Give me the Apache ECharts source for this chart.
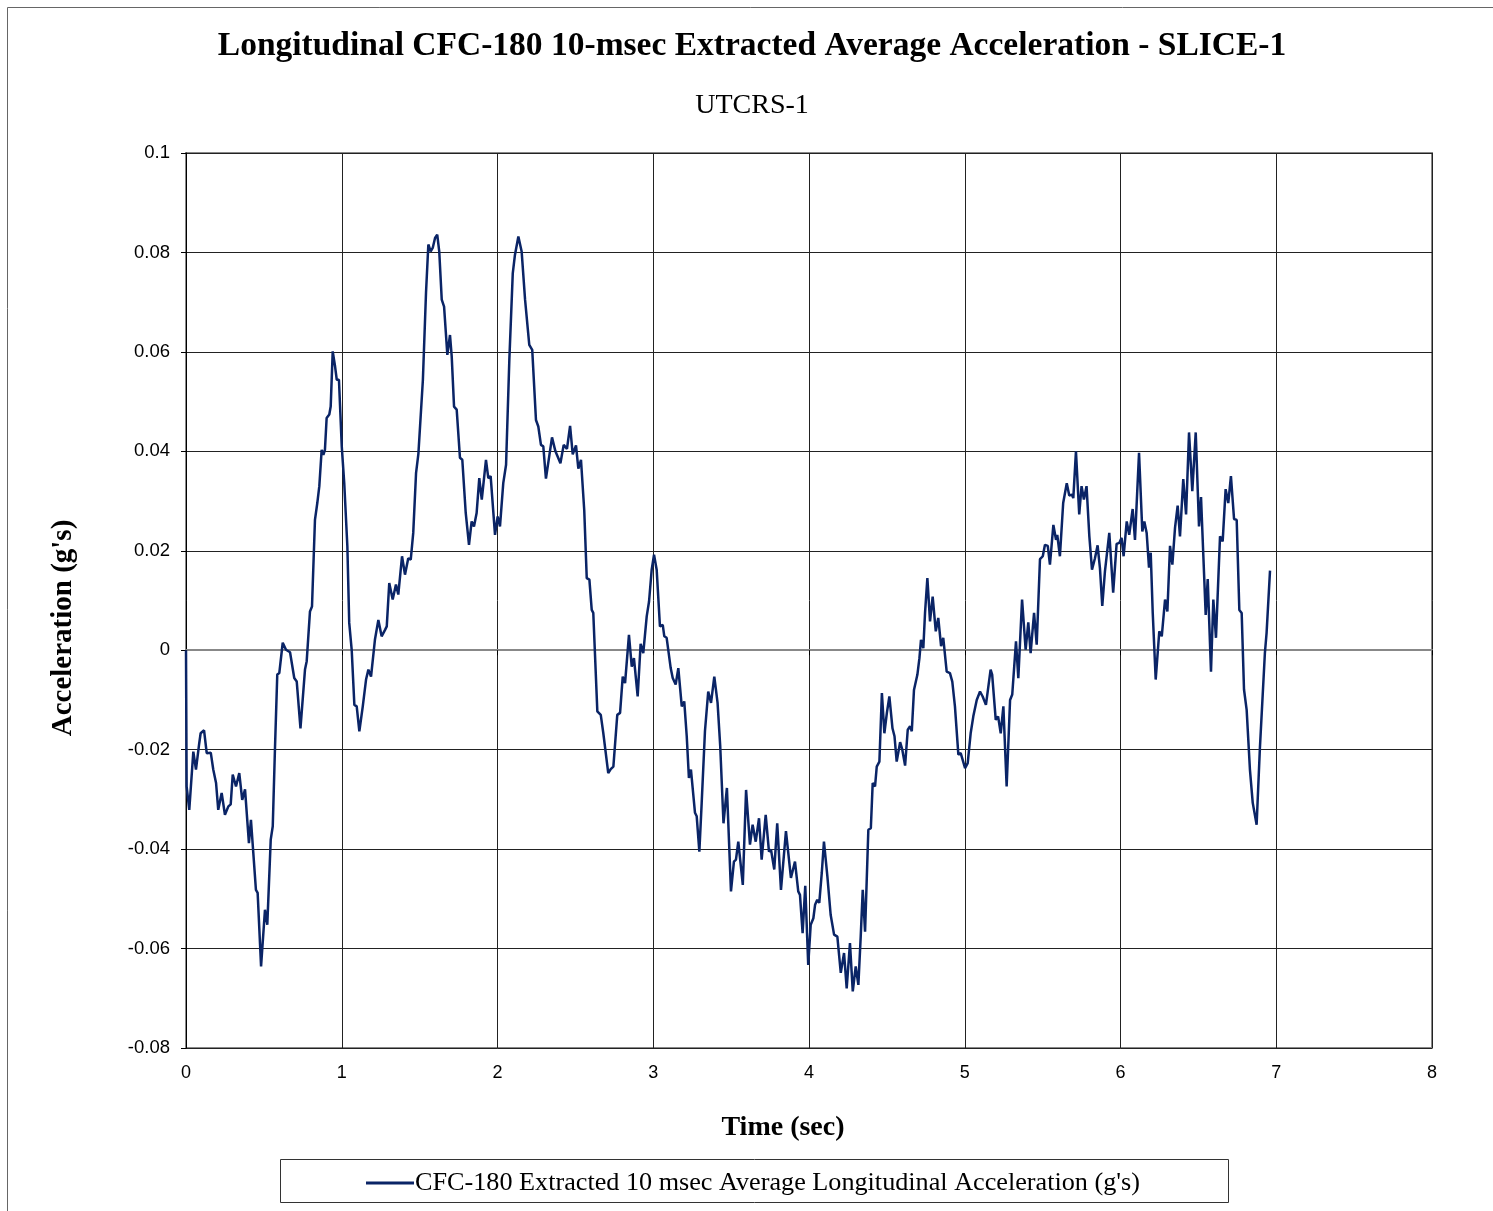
<!DOCTYPE html>
<html>
<head>
<meta charset="utf-8">
<script src="https://cdn.jsdelivr.net/npm/echarts@6/dist/echarts.min.js"></script>
<style>
html,body{margin:0;padding:0;background:#fff;}
#chart{width:1493px;height:1211px;}
</style>
</head>
<body>
<div id="chart"></div>
<script>
// [time (sec), acceleration (g's)]
var accelSeries = [
[0,0],[0.004,-0.0274],[0.021,-0.0321],[0.047,-0.0204],[0.064,-0.024],[0.085,-0.0187],[0.094,-0.0167],[0.116,-0.0161],[0.133,-0.0207],[0.159,-0.0206],[0.175,-0.024],[0.193,-0.0267],[0.207,-0.0321],[0.229,-0.0287],[0.250,-0.0331],[0.272,-0.0314],[0.287,-0.031],[0.300,-0.025],[0.321,-0.0274],[0.342,-0.0247],[0.361,-0.0301],[0.379,-0.028],[0.404,-0.0388],[0.417,-0.0341],[0.432,-0.0407],[0.449,-0.0482],[0.460,-0.0488],[0.482,-0.0636],[0.507,-0.0522],[0.522,-0.0552],[0.544,-0.0381],[0.557,-0.0354],[0.571,-0.02],[0.586,-0.0049],[0.599,-0.0046],[0.621,0.0015],[0.642,0.0001],[0.668,-0.0004],[0.695,-0.0056],[0.711,-0.0063],[0.735,-0.0157],[0.764,-0.0039],[0.775,-0.0022],[0.796,0.0078],[0.809,0.0088],[0.828,0.0262],[0.843,0.0296],[0.856,0.033],[0.871,0.0403],[0.882,0.0393],[0.892,0.0403],[0.903,0.0467],[0.920,0.0474],[0.929,0.049],[0.942,0.0601],[0.957,0.0571],[0.968,0.0544],[0.982,0.0544],[1.000,0.041],[1.016,0.0336],[1.036,0.0209],[1.048,0.0055],[1.064,0],[1.081,-0.011],[1.096,-0.0113],[1.113,-0.0163],[1.135,-0.0113],[1.156,-0.0059],[1.171,-0.0039],[1.188,-0.0053],[1.213,0.0021],[1.235,0.0061],[1.256,0.0028],[1.278,0.0041],[1.289,0.0048],[1.305,0.0135],[1.327,0.0102],[1.348,0.0132],[1.363,0.0112],[1.387,0.0189],[1.406,0.0152],[1.427,0.0185],[1.443,0.0182],[1.459,0.0236],[1.477,0.0356],[1.492,0.0395],[1.521,0.0544],[1.541,0.0719],[1.556,0.0816],[1.571,0.0802],[1.584,0.0809],[1.599,0.0829],[1.613,0.0836],[1.626,0.0802],[1.642,0.0705],[1.657,0.0691],[1.678,0.0594],[1.695,0.0634],[1.706,0.0591],[1.721,0.049],[1.738,0.0484],[1.759,0.0387],[1.774,0.0383],[1.796,0.0276],[1.817,0.0212],[1.834,0.0259],[1.849,0.0249],[1.866,0.0276],[1.883,0.0346],[1.899,0.0303],[1.926,0.0383],[1.941,0.0346],[1.956,0.035],[1.984,0.0232],[2.001,0.0269],[2.016,0.0249],[2.037,0.0336],[2.055,0.0373],[2.076,0.0584],[2.098,0.0758],[2.112,0.0795],[2.134,0.0832],[2.155,0.0802],[2.177,0.0705],[2.204,0.0614],[2.223,0.0604],[2.247,0.0463],[2.262,0.045],[2.279,0.0413],[2.294,0.041],[2.311,0.0345],[2.350,0.0428],[2.372,0.04],[2.404,0.0376],[2.425,0.0413],[2.446,0.0405],[2.466,0.0451],[2.483,0.0394],[2.504,0.0412],[2.519,0.0365],[2.536,0.0383],[2.557,0.0281],[2.573,0.0145],[2.590,0.0142],[2.605,0.0081],[2.615,0.0075],[2.641,-0.0123],[2.663,-0.013],[2.679,-0.0166],[2.711,-0.0247],[2.727,-0.0239],[2.744,-0.0234],[2.769,-0.013],[2.787,-0.0126],[2.804,-0.0053],[2.819,-0.0066],[2.844,0.0031],[2.862,-0.0033],[2.876,-0.0016],[2.900,-0.0093],[2.919,0.0013],[2.936,-0.0006],[2.958,0.0068],[2.973,0.0098],[2.990,0.0162],[3.005,0.0192],[3.022,0.0162],[3.043,0.0048],[3.061,0.0051],[3.071,0.0028],[3.086,0.0025],[3.097,0.0028],[3.112,-0.0036],[3.125,-0.0056],[3.144,-0.0069],[3.161,-0.0036],[3.183,-0.0113],[3.199,-0.0103],[3.215,-0.0173],[3.229,-0.0257],[3.242,-0.024],[3.268,-0.0327],[3.279,-0.0334],[3.296,-0.0405],[3.311,-0.0307],[3.332,-0.0163],[3.353,-0.0083],[3.371,-0.0106],[3.392,-0.0053],[3.413,-0.0106],[3.430,-0.0193],[3.451,-0.0348],[3.473,-0.0277],[3.499,-0.0485],[3.518,-0.0425],[3.531,-0.0421],[3.546,-0.0385],[3.575,-0.0472],[3.596,-0.0281],[3.621,-0.0391],[3.638,-0.0351],[3.658,-0.0385],[3.679,-0.0338],[3.696,-0.0421],[3.722,-0.0331],[3.743,-0.0405],[3.756,-0.0401],[3.777,-0.0441],[3.796,-0.0348],[3.820,-0.0482],[3.852,-0.0364],[3.884,-0.0458],[3.910,-0.0425],[3.931,-0.0485],[3.942,-0.0492],[3.959,-0.0569],[3.976,-0.0474],[3.995,-0.0633],[4.011,-0.0552],[4.028,-0.0539],[4.039,-0.0512],[4.053,-0.0502],[4.066,-0.0508],[4.082,-0.0448],[4.096,-0.0385],[4.118,-0.0455],[4.139,-0.0532],[4.161,-0.0572],[4.182,-0.0576],[4.204,-0.0649],[4.225,-0.0609],[4.242,-0.068],[4.263,-0.0589],[4.281,-0.0686],[4.300,-0.0636],[4.317,-0.0673],[4.332,-0.0576],[4.345,-0.0482],[4.360,-0.0566],[4.381,-0.0361],[4.397,-0.0358],[4.409,-0.0267],[4.424,-0.0274],[4.435,-0.0234],[4.452,-0.0224],[4.468,-0.0086],[4.484,-0.0167],[4.500,-0.0126],[4.516,-0.0093],[4.536,-0.0157],[4.549,-0.0173],[4.563,-0.0224],[4.585,-0.0185],[4.599,-0.02],[4.617,-0.0232],[4.634,-0.016],[4.649,-0.0153],[4.660,-0.0163],[4.674,-0.008],[4.696,-0.0049],[4.709,-0.0016],[4.719,0.0021],[4.734,0.0004],[4.745,0.0075],[4.760,0.0145],[4.777,0.0058],[4.794,0.0108],[4.814,0.0038],[4.830,0.0065],[4.848,0.0008],[4.862,0.0025],[4.884,-0.0043],[4.905,-0.0046],[4.920,-0.0063],[4.937,-0.0113],[4.959,-0.021],[4.974,-0.0207],[5.002,-0.0237],[5.019,-0.0227],[5.038,-0.0167],[5.055,-0.0133],[5.077,-0.01],[5.098,-0.0083],[5.115,-0.0093],[5.136,-0.011],[5.166,-0.0039],[5.176,-0.0049],[5.199,-0.014],[5.214,-0.0133],[5.231,-0.0167],[5.248,-0.0113],[5.269,-0.0274],[5.291,-0.01],[5.305,-0.0089],[5.329,0.0018],[5.344,-0.0056],[5.368,0.0102],[5.391,0.0001],[5.408,0.0056],[5.423,-0.0006],[5.445,0.0075],[5.462,0.0011],[5.483,0.0183],[5.501,0.0189],[5.515,0.0212],[5.533,0.021],[5.547,0.0172],[5.569,0.0252],[5.586,0.0222],[5.594,0.0232],[5.611,0.0189],[5.632,0.0296],[5.655,0.0336],[5.671,0.0311],[5.687,0.0313],[5.697,0.0306],[5.714,0.04],[5.735,0.0273],[5.750,0.033],[5.765,0.0303],[5.782,0.033],[5.800,0.0229],[5.817,0.0162],[5.836,0.0185],[5.853,0.0211],[5.868,0.0165],[5.883,0.0089],[5.900,0.0158],[5.911,0.0162],[5.928,0.0236],[5.953,0.0116],[5.975,0.0214],[5.993,0.0216],[6.007,0.0226],[6.020,0.0189],[6.040,0.0259],[6.056,0.0232],[6.078,0.0284],[6.093,0.0222],[6.119,0.0397],[6.140,0.0239],[6.153,0.0259],[6.168,0.0236],[6.183,0.0166],[6.194,0.0196],[6.207,0.0075],[6.226,-0.0059],[6.249,0.0038],[6.265,0.0028],[6.286,0.0102],[6.301,0.0078],[6.318,0.021],[6.333,0.0172],[6.350,0.0246],[6.367,0.0291],[6.382,0.0229],[6.403,0.0344],[6.421,0.0273],[6.440,0.0438],[6.461,0.032],[6.483,0.0438],[6.504,0.0249],[6.517,0.0308],[6.532,0.0189],[6.547,0.0071],[6.560,0.0143],[6.581,-0.0043],[6.596,0.0102],[6.613,0.0025],[6.639,0.0229],[6.656,0.0219],[6.675,0.0324],[6.692,0.0296],[6.709,0.035],[6.729,0.0264],[6.746,0.0262],[6.763,0.0081],[6.778,0.0075],[6.793,-0.0079],[6.810,-0.012],[6.831,-0.024],[6.849,-0.0307],[6.859,-0.0311],[6.874,-0.0351],[6.895,-0.0197],[6.906,-0.0197],[6.927,-0.0006],[6.938,0.0035],[6.960,0.016]
];
var seriesName = "CFC-180 Extracted 10 msec Average Longitudinal Acceleration (g's)";
var titleText = "Longitudinal CFC-180 10-msec Extracted Average Acceleration - SLICE-1";
var subtitleText = "UTCRS-1";
var xAxisName = "Time (sec)";
var yAxisName = "Acceleration (g's)";
var xRange = [0, 8, 1];
var yRange = [-0.08, 0.1, 0.02];

var serif = "'Liberation Serif', 'Times New Roman', serif";
var sans = "'Liberation Sans', Arial, sans-serif";
var chart = echarts.init(document.getElementById('chart'), null, {renderer: 'canvas'});
chart.setOption({
  backgroundColor: '#fff',
  animation: false,
  grid: {left: 186, right: 61, top: 153, bottom: 163, show: true, borderColor: '#888', borderWidth: 2, backgroundColor: 'transparent'},
  legend: {
    data: [seriesName], left: 361, top: 1165, itemWidth: 48, itemHeight: 3, itemGap: 0,
    icon: 'rect',
    textStyle: {fontFamily: serif, fontSize: 26.2, color: '#000', padding: [0,0,0,-4]}
  },
  xAxis: {
    type: 'value', min: xRange[0], max: xRange[1], interval: xRange[2],
    axisLine: {show: true, lineStyle: {color: '#888', width: 2}},
    axisTick: {show: true, length: 5, lineStyle: {color: '#000'}},
    axisLabel: {fontFamily: sans, fontSize: 18, color: '#000', margin: 16},
    splitLine: {show: true, lineStyle: {color: '#222', width: 1}}
  },
  yAxis: {
    type: 'value', min: yRange[0], max: yRange[1], interval: yRange[2],
    axisLine: {show: true, onZero: false, lineStyle: {color: '#000', width: 1}},
    axisTick: {show: true, length: 5, lineStyle: {color: '#000'}},
    axisLabel: {fontFamily: sans, fontSize: 18.5, color: '#000', margin: 16,
      formatter: function (v) { return String(+v.toFixed(2)); }},
    splitLine: {show: true, lineStyle: {color: '#222', width: 1}}
  },
  graphic: [
    {type: 'rect', left: 5, top: 5, shape: {width: 1487, height: 1210}, style: {fill: 'none', stroke: '#666', lineWidth: 1}, z: -1, silent: true},
    {type: 'rect', left: 278, top: 1157, shape: {width: 948, height: 43}, style: {fill: 'none', stroke: '#333', lineWidth: 1}, silent: true},
    {type: 'text', x: 752, y: 46,
      style: {text: titleText, fill: '#000', font: "bold 33.5px " + serif, textAlign: 'center', textVerticalAlign: 'middle'}},
    {type: 'text', x: 752, y: 106,
      style: {text: subtitleText, fill: '#000', font: "28px " + serif, textAlign: 'center', textVerticalAlign: 'middle'}},
    {type: 'text', x: 783, y: 1128,
      style: {text: xAxisName, fill: '#000', font: "bold 28px " + serif, textAlign: 'center', textVerticalAlign: 'middle'}},
    {type: 'text', x: 64, y: 628, rotation: Math.PI / 2,
      style: {text: yAxisName, fill: '#000', font: "bold 29px " + serif, textAlign: 'center', textVerticalAlign: 'middle'}}
  ],
  series: [{
    name: seriesName, type: 'line', data: accelSeries, showSymbol: false, symbol: 'none',
    lineStyle: {color: '#0a2466', width: 2.5}, itemStyle: {color: '#0a2466'}, smooth: false
  }]
});
</script>
</body>
</html>
